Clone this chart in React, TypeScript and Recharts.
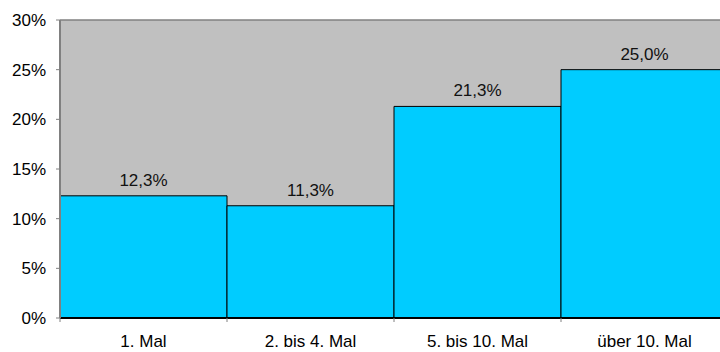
import { BarChart, Bar, XAxis, YAxis, CartesianGrid, LabelList, ReferenceLine } from 'recharts'

const categories = ['1. Mal', '2. bis 4. Mal', '5. bis 10. Mal', 'über 10. Mal']
const shares = [12.3, 11.3, 21.3, 25.0]
const yTicks = [0, 5, 10, 15, 20, 25, 30]

const data = categories.map((name, i) => ({ name, share: shares[i] }))

const font = '"Liberation Sans", Arial, sans-serif'

// category tick: label in the middle, tick mark on the left boundary of the band
const CategoryTick = (props: any) => {
  const { x, y, payload } = props
  const axisY = y - 13 - 4
  const edge = x - (payload.offset || 0)
  return (
    <g>
      <line x1={edge} y1={axisY} x2={edge} y2={axisY + 4} stroke="#808080" strokeWidth={1} />
      <text x={x} y={y} dy="0.68em" textAnchor="middle" fill="#000" fontSize={17} fontFamily={font}>
        {payload.value}
      </text>
    </g>
  )
}

export default function App() {
  return (
    <div style={{ position: 'fixed', left: 0, top: 0, width: 720, height: 352, overflow: 'hidden', background: '#fff' }}>
      <BarChart
        width={740}
        height={352}
        data={data}
        margin={{ top: 20, right: 12, bottom: 0, left: 0 }}
        barCategoryGap={0}
      >
        <CartesianGrid fill="#C0C0C0" horizontal={false} vertical={false} />
        <ReferenceLine y={30} stroke="#808080" strokeWidth={1.5} ifOverflow="extendDomain" />
        <XAxis
          dataKey="name"
          height={34}
          tickLine={false}
          tickSize={4}
          tickMargin={13}
          axisLine={{ stroke: '#000', strokeWidth: 2 }}
          tick={<CategoryTick />}
          interval={0}
        />
        <YAxis
          width={60}
          domain={[0, 30]}
          ticks={yTicks}
          tickFormatter={(v: number) => `${v}%`}
          tickSize={4}
          tickMargin={10}
          axisLine={{ stroke: '#808080', strokeWidth: 2 }}
          tickLine={{ stroke: '#808080' }}
          tick={{ fill: '#000', fontSize: 17, fontFamily: font }}
        />
        <Bar dataKey="share" fill="#00CCFF" stroke="#000" strokeWidth={1} isAnimationActive={false}>
          <LabelList
            dataKey="share"
            position="top"
            offset={10}
            formatter={(v: any) => `${Number(v).toFixed(1).replace('.', ',')}%`}
            style={{ fill: '#111', fontSize: 17, fontFamily: font }}
          />
        </Bar>
      </BarChart>
    </div>
  )
}
